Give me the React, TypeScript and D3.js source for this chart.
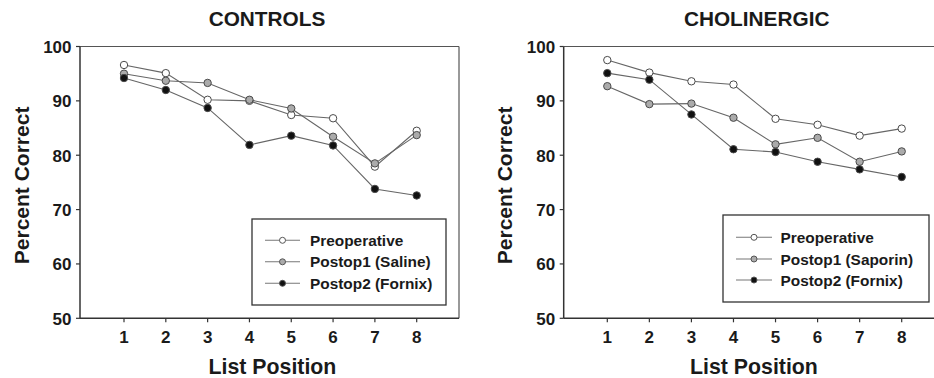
import React from "react";
import * as d3 from "d3";

const positions = [1, 2, 3, 4, 5, 6, 7, 8];
const yTicks = [50, 60, 70, 80, 90, 100];

const controlsPre = [96.6, 95.1, 90.2, 90.0, 87.4, 86.8, 77.9, 84.5];
const controlsPost1 = [95.0, 93.7, 93.3, 90.2, 88.6, 83.4, 78.5, 83.7];
const controlsPost2 = [94.2, 92.0, 88.7, 81.9, 83.6, 81.8, 73.8, 72.6];

const cholPre = [97.5, 95.2, 93.6, 93.0, 86.7, 85.6, 83.6, 84.9];
const cholPost1 = [92.7, 89.4, 89.5, 86.9, 82.0, 83.2, 78.8, 80.7];
const cholPost2 = [95.1, 93.9, 87.5, 81.1, 80.6, 78.8, 77.4, 76.0];

const controlsLabels = ["Preoperative", "Postop1 (Saline)", "Postop2 (Fornix)"];
const cholLabels = ["Preoperative", "Postop1 (Saporin)", "Postop2 (Fornix)"];

const fills = ["#ffffff", "#ababab", "#111111"];
const FONT = "'Liberation Sans', Arial, Helvetica, sans-serif";
const TXT = "#1a1a1a";

type PanelProps = {
  title: string;
  series: number[][];
  labels: string[];
  left: number;
  right: number;
  x1: number;
  x8: number;
  legend: { x0: number; x1: number; y0: number; y1: number; lineX0: number; lineX1: number; textX: number; rows: number[] };
  ytitleX: number;
  titleX: number;
  xtitleX: number;
};

function Panel(p: PanelProps) {
  const top = 46.5;
  const bottom = 318.3;
  const y = d3.scaleLinear().domain([50, 100]).range([bottom, top]);
  const x = d3.scaleLinear().domain([1, 8]).range([p.x1, p.x8]);
  const line = d3
    .line<number>()
    .x((_, i) => x(positions[i]))
    .y((d) => y(d));
  return (
    <g>
      <text x={p.titleX} y={26} textAnchor="middle" fontFamily={FONT} fontWeight="bold" fontSize={20.8} fill={TXT}>
        {p.title}
      </text>
      {/* frame */}
      <line x1={p.left} x2={p.right} y1={top} y2={top} stroke="#555" strokeWidth={1.2} />
      <line x1={p.right} x2={p.right} y1={top} y2={bottom} stroke="#555" strokeWidth={1.2} />
      <line x1={p.left} x2={p.left} y1={top} y2={bottom} stroke="#333" strokeWidth={1.5} />
      <line x1={p.left} x2={p.right} y1={bottom} y2={bottom} stroke="#333" strokeWidth={1.5} />
      {yTicks.map((t) => (
        <g key={t}>
          <line x1={p.left - 4} x2={p.left} y1={y(t)} y2={y(t)} stroke="#333" strokeWidth={1.2} />
          <text x={p.left - 8.5} y={y(t) + 6.5} textAnchor="end" fontFamily={FONT} fontWeight="bold" fontSize={17} fill={TXT}>
            {t}
          </text>
        </g>
      ))}
      {positions.map((t) => (
        <g key={t}>
          <line x1={x(t)} x2={x(t)} y1={bottom} y2={bottom + 4} stroke="#333" strokeWidth={1.2} />
          <text x={x(t)} y={343} textAnchor="middle" fontFamily={FONT} fontWeight="bold" fontSize={17} fill={TXT}>
            {t}
          </text>
        </g>
      ))}
      <text x={p.xtitleX} y={373.5} textAnchor="middle" fontFamily={FONT} fontWeight="bold" fontSize={21.3} fill={TXT}>
        List Position
      </text>
      <text
        transform={`translate(${p.ytitleX},${(top + bottom) / 2 + 3}) rotate(-90)`}
        textAnchor="middle"
        fontFamily={FONT}
        fontWeight="bold"
        fontSize={21}
        fill={TXT}
      >
        Percent Correct
      </text>
      {p.series.map((s, si) => (
        <g key={si}>
          <path d={line(s) || ""} fill="none" stroke="#666" strokeWidth={1.1} />
        </g>
      ))}
      {p.series.map((s, si) => (
        <g key={"m" + si}>
          {s.map((v, i) => (
            <circle key={i} cx={x(positions[i])} cy={y(v)} r={3.7} fill={fills[si]} stroke="#4a4a4a" strokeWidth={1} />
          ))}
        </g>
      ))}
      {/* legend */}
      <rect
        x={p.legend.x0}
        y={p.legend.y0}
        width={p.legend.x1 - p.legend.x0}
        height={p.legend.y1 - p.legend.y0}
        fill="#fff"
        stroke="#333"
        strokeWidth={1.3}
      />
      {p.labels.map((l, i) => (
        <g key={l}>
          <line x1={p.legend.lineX0} x2={p.legend.lineX1} y1={p.legend.rows[i]} y2={p.legend.rows[i]} stroke="#777" strokeWidth={1.1} />
          <circle cx={(p.legend.lineX0 + p.legend.lineX1) / 2} cy={p.legend.rows[i]} r={3} fill={fills[i]} stroke="#555" strokeWidth={1} />
          <text x={p.legend.textX} y={p.legend.rows[i] + 5.5} fontFamily={FONT} fontWeight="bold" fontSize={15.4} fill={TXT}>
            {l}
          </text>
        </g>
      ))}
    </g>
  );
}

export default function App() {
  return (
    <svg width={934} height={378} style={{ position: "absolute", left: 0, top: 0, background: "#fff" }}>
      <rect width={934} height={378} fill="#fff" />
      <Panel
        title="CONTROLS"
        series={[controlsPre, controlsPost1, controlsPost2]}
        labels={controlsLabels}
        left={80}
        right={459}
        x1={124}
        x8={416.7}
        legend={{ x0: 252, x1: 446, y0: 219, y1: 305, lineX0: 265, lineX1: 300, textX: 310, rows: [240.3, 261.8, 283.3] }}
        ytitleX={29}
        titleX={267}
        xtitleX={272.5}
      />
      <Panel
        title="CHOLINERGIC"
        series={[cholPre, cholPost1, cholPost2]}
        labels={cholLabels}
        left={563.7}
        right={945}
        x1={607.3}
        x8={901.7}
        legend={{ x0: 723, x1: 929, y0: 215, y1: 302, lineX0: 736, lineX1: 772, textX: 780.5, rows: [237.3, 259, 280] }}
        ytitleX={512}
        titleX={756.7}
        xtitleX={754}
      />
    </svg>
  );
}
